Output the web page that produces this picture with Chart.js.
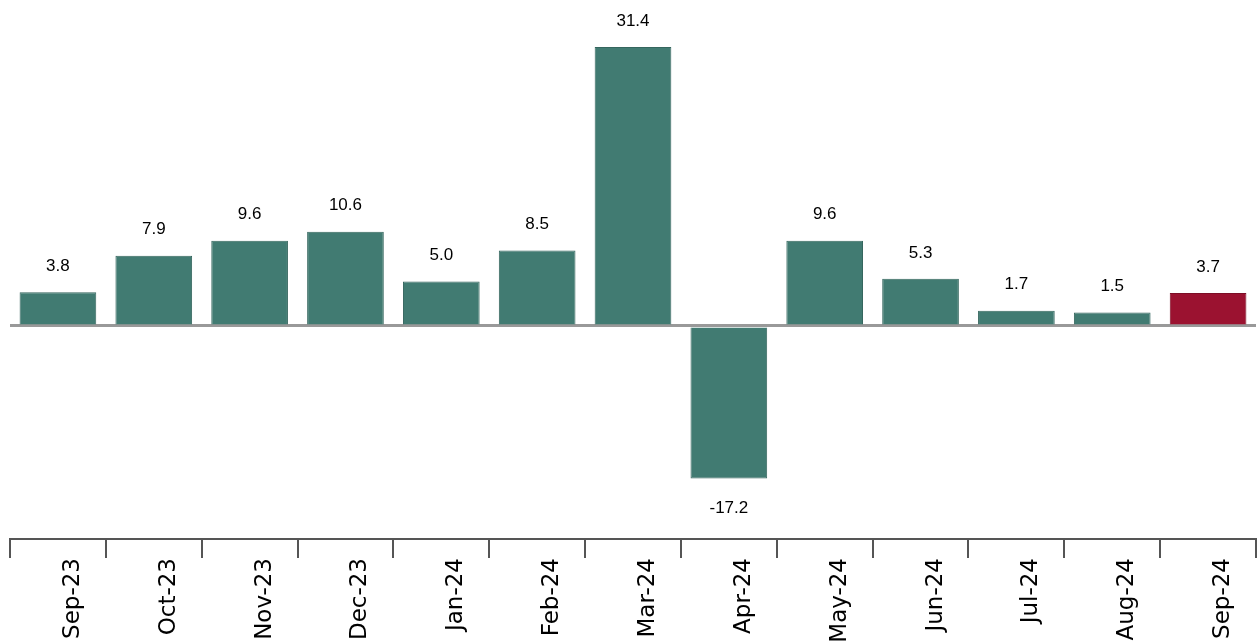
<!DOCTYPE html>
<html>
<head>
<meta charset="utf-8">
<script src="https://cdn.jsdelivr.net/npm/chart.js@4"></script>
<style>
  html, body { margin: 0; padding: 0; overflow: hidden; background: #fff; }
  #wrap { width: 1257px; height: 720px; }
</style>
</head>
<body>
<div id="wrap"><canvas id="myChart"></canvas></div>
<script>
var months = ["Sep-23", "Oct-23", "Nov-23", "Dec-23", "Jan-24", "Feb-24", "Mar-24", "Apr-24", "May-24", "Jun-24", "Jul-24", "Aug-24", "Sep-24"];
var values = [3.8, 7.9, 9.6, 10.6, 5.0, 8.5, 31.4, -17.2, 9.6, 5.3, 1.7, 1.5, 3.7];

var teal = "#417b72";
var red = "#9b1230";

// draws the value above (or below) each bar
var valueLabels = {
    id: "valueLabels",
    afterDatasetsDraw: function (chart) {
        var ctx = chart.ctx;
        var meta = chart.getDatasetMeta(0);
        ctx.save();
        ctx.font = "17px Arial, 'Liberation Sans', sans-serif";
        ctx.fillStyle = "#000";
        ctx.textAlign = "center";
        ctx.textBaseline = "middle";
        meta.data.forEach(function (bar, i) {
            var v = values[i];
            var y = v >= 0 ? bar.y - 26 : bar.y + 30;
            ctx.fillText(v.toFixed(1), bar.x, y);
        });
        ctx.restore();
    }
};

var ctx = document.getElementById("myChart").getContext("2d");
var chart = new Chart(ctx, {
    type: "bar",
    data: {
        labels: months,
        datasets: [{
            data: values,
            backgroundColor: values.map(function (v, i) { return i == values.length - 1 ? red : teal; }),
            borderColor: values.map(function (v, i) { return i == values.length - 1 ? "#7d0e26" : "#35665e"; }),
            borderWidth: 1,
            barPercentage: 0.8,
            categoryPercentage: 1.0
        }]
    },
    options: {
        responsive: true,
        maintainAspectRatio: false,
        animation: false,
        layout: { padding: { left: 10, right: 1, top: 0, bottom: 0 } },
        plugins: { legend: { display: false }, tooltip: { enabled: false } },
        scales: {
            y: {
                min: -24,
                max: 36.7,
                display: true,
                border: { display: false },
                ticks: { display: false, stepSize: 100 },
                afterFit: function (s) { s.width = 0; },
                afterBuildTicks: function (s) { s.ticks = [{ value: 0 }]; },
                grid: {
                    drawTicks: false,
                    color: "#999999",
                    lineWidth: 3
                }
            },
            x: {
                border: { display: true, color: "#555555", width: 2 },
                grid: {
                    drawOnChartArea: false,
                    drawTicks: true,
                    tickLength: 19,
                    color: "#555555",
                    lineWidth: 2
                },
                ticks: {
                    minRotation: 90,
                    maxRotation: 90,
                    padding: 0,
                    labelOffset: 15,
                    color: "#000",
                    font: { family: "'DejaVu Sans', sans-serif", size: 23 }
                },
                afterFit: function (s) { s.height = 181; }
            }
        }
    },
    plugins: [valueLabels]
});
</script>
</body>
</html>
